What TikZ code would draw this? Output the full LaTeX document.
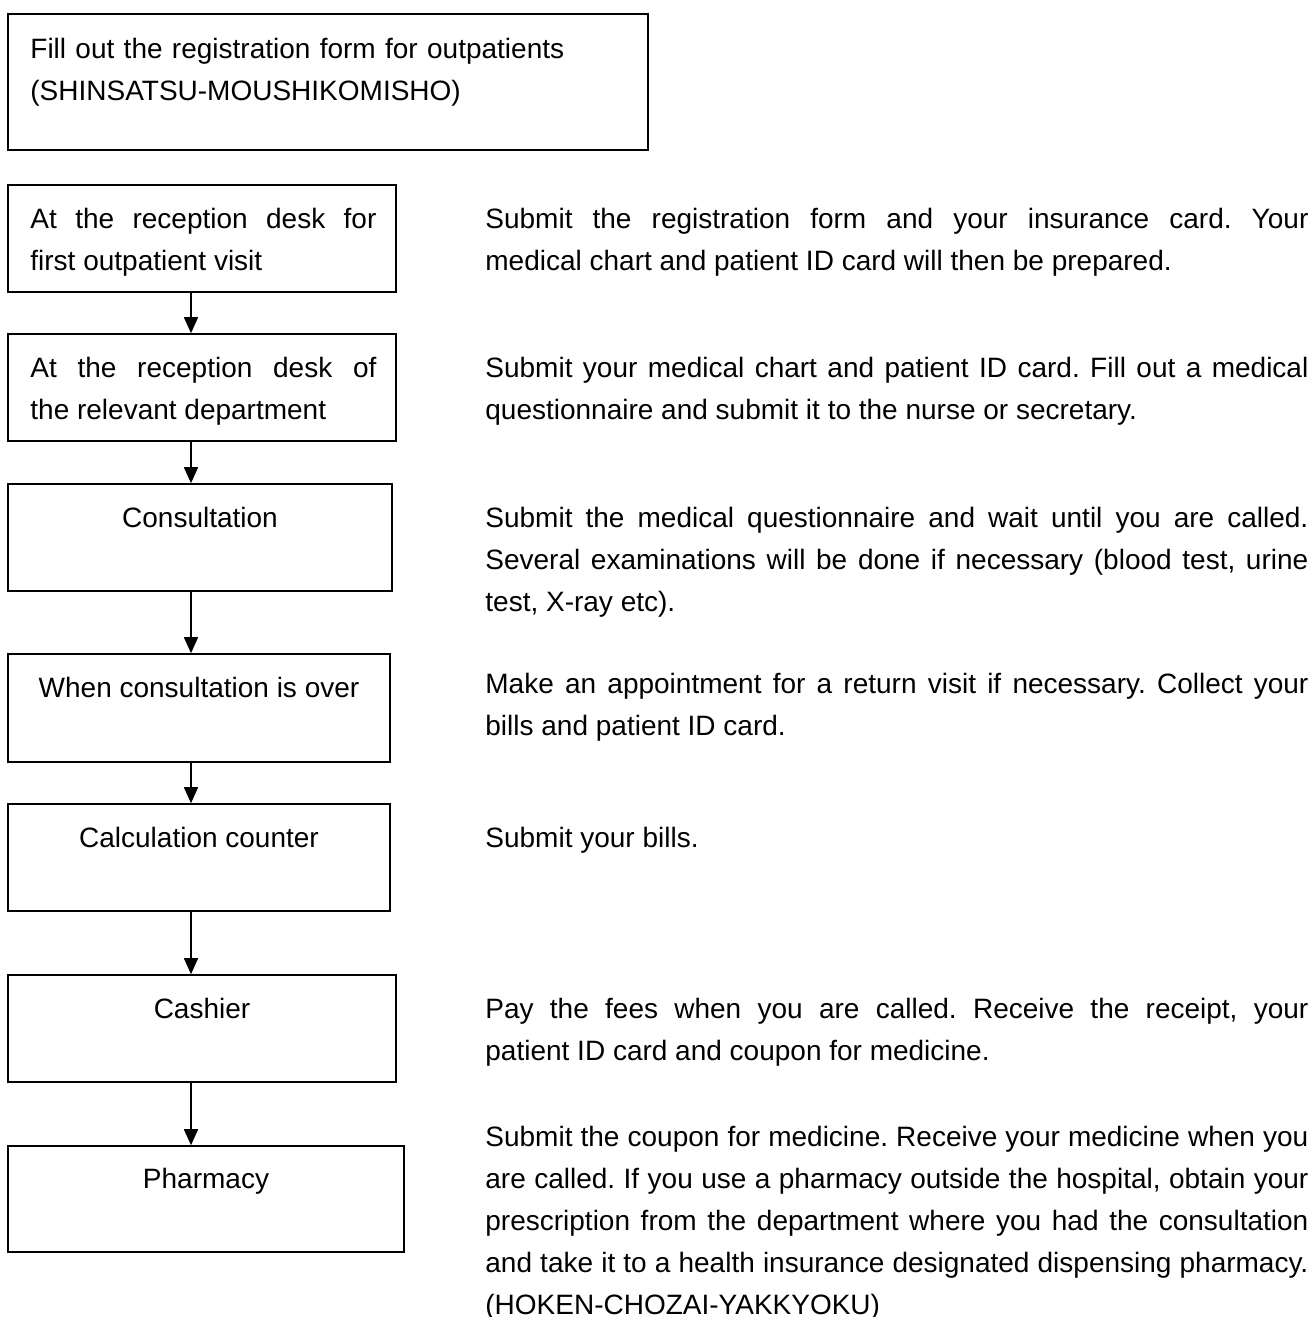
\documentclass[tikz,border=0pt]{standalone}
\usepackage{fontspec}
\setmainfont{Liberation Sans}
\usetikzlibrary{arrows.meta}
\frenchspacing
\newcommand\jst{\tolerance=10000 \hyphenpenalty=10000 \emergencystretch=0pt }
\begin{document}
\begin{tikzpicture}[x=0.5pt,y=-0.5pt,
  box/.style={draw,line width=0.8pt,inner sep=0pt,rectangle},
  txt/.style={font=\fontsize{14pt}{21pt}\selectfont\frenchspacing,inner sep=0pt,anchor=base west,align=justify},
  ctxt/.style={font=\fontsize{14pt}{21pt}\selectfont,inner sep=0pt,anchor=base},
  flow/.style={line width=0.8pt,-{Triangle[width=7pt,length=8pt]}}]
\useasboundingbox (0,0) rectangle (1316,1317);
\coordinate (ax) at (191,0);

% boxes
\node[box,minimum width=320pt,minimum height=68pt] (top) at (328,82) {};
\node[box,minimum width=194pt,minimum height=53.5pt] (b1) at (202,238.5) {};
\node[box,minimum width=194pt,minimum height=53.5pt] (b2) at (202,387.5) {};
\node[box,minimum width=192pt,minimum height=53.5pt] (b3) at (200,537.5) {};
\node[box,minimum width=191pt,minimum height=54pt] (b4) at (199,708) {};
\node[box,minimum width=191pt,minimum height=53.5pt] (b5) at (199,857.5) {};
\node[box,minimum width=194pt,minimum height=53.5pt] (b6) at (202,1028.5) {};
\node[box,minimum width=198pt,minimum height=53pt] (b7) at (206,1199) {};

% box texts
\node[txt,align=left,text width=300pt] (ttop) at (30,58)
  {\mbox{Fill out the registration form for outpatients}\\\mbox{(SHINSATSU-MOUSHIKOMISHO)}};
\node[txt,text width=173pt] (t1) at (30,228)
  {\jst At the reception desk for\linebreak first outpatient visit};
\node[txt,text width=173pt] (t2) at (30,377)
  {\jst At the reception desk of\linebreak the relevant department};
\node[ctxt] (t3) at (200,527) {Consultation};
\node[ctxt] (t4) at (199,697) {When consultation is over};
\node[ctxt] (t5) at (199,847) {Calculation counter};
\node[ctxt] (t6) at (202,1018) {Cashier};
\node[ctxt] (t7) at (206,1188) {Pharmacy};

% right-hand descriptions
\node[txt,text width=411.5pt] (r1) at (485,228)
  {\jst Submit the registration form and your insurance card. Your\linebreak medical chart and patient ID card will then be prepared.};
\node[txt,text width=411.5pt] (r2) at (485,377)
  {\jst Submit your medical chart and patient ID card. Fill out a medical\linebreak questionnaire and submit it to the nurse or secretary.};
\node[txt,text width=411.5pt] (r3) at (485,527)
  {\jst Submit the medical questionnaire and wait until you are called.\linebreak Several examinations will be done if necessary (blood test, urine\linebreak test, X-ray etc).};
\node[txt,text width=411.5pt] (r4) at (485,693)
  {\jst Make an appointment for a return visit if necessary. Collect your\linebreak bills and patient ID card.};
\node[txt,text width=411.5pt] (r5) at (485,847)
  {Submit your bills.};
\node[txt,text width=411.5pt] (r6) at (485,1018)
  {\jst Pay the fees when you are called. Receive the receipt, your\linebreak patient ID card and coupon for medicine.};
\node[txt,text width=411.5pt] (r7) at (485,1146)
  {\jst Submit the coupon for medicine. Receive your medicine when you\linebreak are called. If you use a pharmacy outside the hospital, obtain your\linebreak prescription from the department where you had the consultation\linebreak and take it to a health insurance designated dispensing pharmacy.\linebreak (HOKEN-CHOZAI-YAKKYOKU)};

% connectors
\draw[flow] (b1.south -| ax) -- (b2.north -| ax);
\draw[flow] (b2.south -| ax) -- (b3.north -| ax);
\draw[flow] (b3.south -| ax) -- (b4.north -| ax);
\draw[flow] (b4.south -| ax) -- (b5.north -| ax);
\draw[flow] (b5.south -| ax) -- (b6.north -| ax);
\draw[flow] (b6.south -| ax) -- (b7.north -| ax);
\end{tikzpicture}
\end{document}
